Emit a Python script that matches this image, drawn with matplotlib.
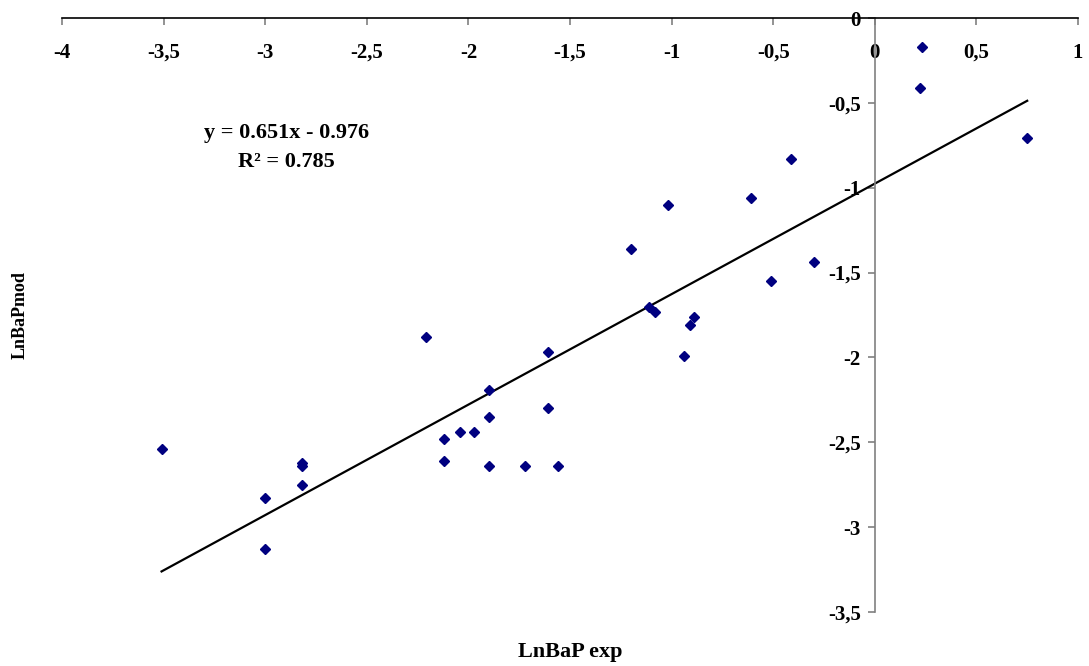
import numpy as np
import matplotlib
matplotlib.use('Agg')
import matplotlib.pyplot as plt
from matplotlib.ticker import FuncFormatter, MultipleLocator

plt.rcParams['font.family'] = ['Liberation Serif', 'DejaVu Serif']
plt.rcParams['font.weight'] = 'bold'

######## data
ln_bap_exp = [-3.51, -3.00, -3.00, -2.82, -2.82, -2.82, -2.21, -2.12, -2.12,
              -2.04, -1.97, -1.90, -1.90, -1.90, -1.72, -1.61, -1.61, -1.56,
              -1.20, -1.11, -1.08, -1.02, -0.94, -0.91, -0.89, -0.61, -0.51,
              -0.41, -0.30, 0.22, 0.23, 0.75]
ln_bap_mod = [-2.54, -2.83, -3.13, -2.62, -2.64, -2.75, -1.88, -2.48, -2.61,
              -2.44, -2.44, -2.19, -2.35, -2.64, -2.64, -1.97, -2.30, -2.64,
              -1.36, -1.70, -1.73, -1.10, -1.99, -1.81, -1.76, -1.06, -1.55,
              -0.83, -1.44, -0.41, -0.17, -0.71]

slope = 0.651
intercept = -0.976
r2 = 0.785

### draw
fig = plt.figure(figsize=(10.89, 6.66), dpi=100)
ax = fig.add_axes([62/1089, 1 - 612/666, 1016/1089, 594/666])

ax.plot(ln_bap_exp, ln_bap_mod, linestyle='none', marker='D',
        markersize=4.8, color='#000080', zorder=3)

xl = np.array([min(ln_bap_exp), max(ln_bap_exp)])
ax.plot(xl, slope * xl + intercept, color='black', lw=1.6, zorder=2)

ax.set_xlim(-4, 1)
ax.set_ylim(-3.5, 0)

# axes crossing at zero
ax.spines['bottom'].set_position(('data', 0))
ax.spines['left'].set_position(('data', 0))
ax.spines['top'].set_visible(False)
ax.spines['right'].set_visible(False)
ax.spines['bottom'].set_color('black')
ax.spines['left'].set_color('#808080')
ax.spines['bottom'].set_linewidth(1.2)
ax.spines['left'].set_linewidth(1.2)

ax.xaxis.set_major_locator(MultipleLocator(0.5))
ax.yaxis.set_major_locator(MultipleLocator(0.5))
fmt = FuncFormatter(lambda v, p: ('%g' % round(v, 2)).replace('.', ','))
ax.xaxis.set_major_formatter(fmt)
ax.yaxis.set_major_formatter(fmt)

ax.tick_params(axis='x', direction='out', length=5, width=1.2,
               color='#808080', pad=13, labelsize=15)
ax.tick_params(axis='y', direction='out', length=5, width=1.2,
               color='#808080', pad=5, labelsize=15)
for lab in ax.get_xticklabels() + ax.get_yticklabels():
    lab.set_fontweight('bold')

ax.set_xlabel('LnBaP exp', fontsize=16, fontweight='bold')
ax.set_ylabel('LnBaPmod', fontsize=13, fontweight='bold')
ax.xaxis.set_label_coords(0.5, -0.05)
ax.yaxis.set_label_coords(-0.033, 0.5)

ax.text(0.221, 0.806, 'y = 0.651x - 0.976', transform=ax.transAxes,
        ha='center', va='center', fontsize=16, fontweight='bold')
ax.text(0.221, 0.758, 'R² = %.3f' % r2, transform=ax.transAxes,
        ha='center', va='center', fontsize=16, fontweight='bold')

fig.savefig('out.png', dpi=100)
